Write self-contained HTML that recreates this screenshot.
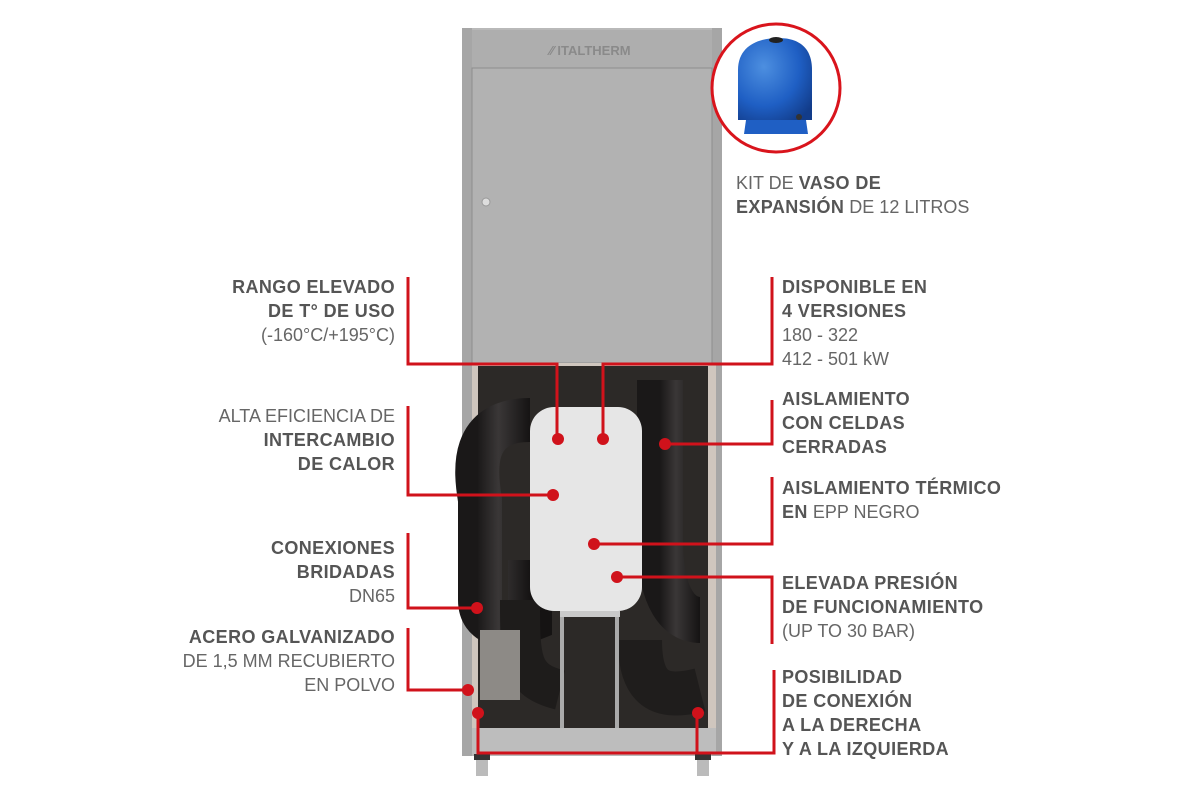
<!DOCTYPE html>
<html><head><meta charset="utf-8"><style>
body{margin:0;width:1200px;height:797px;background:#fff;position:relative;overflow:hidden;font-family:"Liberation Sans",Arial,sans-serif;color:#555;}
.t{position:absolute;font-size:18px;line-height:24px;white-space:nowrap;}
.l{text-align:right;right:805px;}
.r{left:782px;}
b{font-weight:bold;letter-spacing:0.4px;}
.lt{font-weight:normal;color:#666;}
</style></head><body>
<svg width="1200" height="797" style="position:absolute;left:0;top:0">
<defs>
<linearGradient id="pipe" x1="0" x2="1"><stop offset="0" stop-color="#1a1818"/><stop offset=".4" stop-color="#3a3737"/><stop offset="1" stop-color="#151313"/></linearGradient>
<radialGradient id="tank" cx=".35" cy=".35" r=".8"><stop offset="0" stop-color="#4d8fe0"/><stop offset=".6" stop-color="#1f5fc4"/><stop offset="1" stop-color="#123c8a"/></radialGradient>
</defs>
<rect x="462" y="28" width="260" height="728" fill="#b9b9b9"/>
<rect x="462" y="28" width="10" height="728" fill="#a6a6a6"/>
<rect x="712" y="28" width="10" height="728" fill="#a6a6a6"/>
<rect x="472" y="30" width="240" height="38" fill="#aeaeae"/>
<text x="590" y="55" font-size="13" font-weight="bold" fill="#8a8a8a" text-anchor="middle" font-family="Liberation Sans">⁄⁄ ITALTHERM</text>
<rect x="472" y="68" width="240" height="295" fill="#b2b2b2" stroke="#8d8d8d" stroke-width="1"/>
<circle cx="486" cy="202" r="4" fill="#ddd" stroke="#999"/>
<rect x="472" y="363" width="244" height="368" fill="#cfc6be"/>
<rect x="478" y="366" width="230" height="362" fill="#2c2927"/>
<path d="M530 420 C470 420 475 470 480 500 L480 600 C480 625 505 630 530 620 L530 560" fill="none" stroke="url(#pipe)" stroke-width="44"/>
<path d="M520 600 C520 660 520 680 560 690" fill="none" stroke="#1e1c1b" stroke-width="40"/>
<path d="M660 380 L660 540 C660 600 680 620 700 620" fill="none" stroke="url(#pipe)" stroke-width="46"/>
<path d="M640 640 C640 690 660 700 700 690" fill="none" stroke="#1f1d1c" stroke-width="44"/>
<rect x="480" y="630" width="40" height="70" fill="#8d8a86"/>
<rect x="530" y="407" width="112" height="204" rx="24" fill="#e6e6e6"/>
<path d="M562 611 L562 728 M617 611 L617 728" stroke="#aaa" stroke-width="4"/>
<rect x="560" y="611" width="60" height="6" fill="#c9c9c9"/>
<rect x="472" y="728" width="244" height="26" fill="#bdbdbd"/>
<rect x="476" y="754" width="12" height="22" fill="#bbb"/>
<rect x="697" y="754" width="12" height="22" fill="#bbb"/>
<rect x="474" y="754" width="16" height="6" fill="#333"/>
<rect x="695" y="754" width="16" height="6" fill="#333"/>
<circle cx="776" cy="88" r="64" fill="#fff" stroke="#d9141c" stroke-width="3"/>
<path d="M738 70 C738 45 760 38 778 38 C796 38 812 45 812 70 L812 120 L738 120 Z" fill="url(#tank)"/>
<ellipse cx="776" cy="40" rx="7" ry="3" fill="#222"/>
<path d="M746 120 L806 120 L808 134 L744 134 Z" fill="#1f5fc4"/>
<circle cx="799" cy="117" r="3" fill="#333"/>
<g fill="none" stroke="#d0121b" stroke-width="3">
<polyline points="408,277 408,364 557,364 557,439"/>
<polyline points="603,439 603,364 772,364 772,277"/>
<polyline points="408,406 408,495 553,495"/>
<polyline points="665,444 772,444 772,400"/>
<polyline points="594,544 772,544 772,477"/>
<polyline points="617,577 772,577 772,644"/>
<polyline points="408,533 408,608 477,608"/>
<polyline points="408,628 408,690 468,690"/>
<polyline points="478,713 478,753 697,753 697,713"/>
<polyline points="697,753 774,753 774,670"/>
</g>
<g fill="#d0121b">
<circle cx="558" cy="439" r="6"/><circle cx="603" cy="439" r="6"/>
<circle cx="553" cy="495" r="6"/><circle cx="665" cy="444" r="6"/>
<circle cx="594" cy="544" r="6"/><circle cx="617" cy="577" r="6"/>
<circle cx="477" cy="608" r="6"/><circle cx="468" cy="690" r="6"/>
<circle cx="478" cy="713" r="6"/><circle cx="698" cy="713" r="6"/>
</g>
</svg>
<div class="t" style="left:736px;top:171px;"><span class="lt">KIT DE </span><b>VASO DE</b><br><b>EXPANSIÓN</b><span class="lt"> DE 12 LITROS</span></div>
<div class="t l" style="top:275px;"><b>RANGO ELEVADO</b><br><b>DE T° DE USO</b><br><span class="lt">(-160°C/+195°C)</span></div>
<div class="t l" style="top:404px;"><span class="lt">ALTA EFICIENCIA DE</span><br><b>INTERCAMBIO</b><br><b>DE CALOR</b></div>
<div class="t l" style="top:536px;"><b>CONEXIONES</b><br><b>BRIDADAS</b><br><span class="lt">DN65</span></div>
<div class="t l" style="top:625px;"><b>ACERO GALVANIZADO</b><br><span class="lt">DE 1,5 MM RECUBIERTO</span><br><span class="lt">EN POLVO</span></div>
<div class="t r" style="top:275px;"><b>DISPONIBLE EN</b><br><b>4 VERSIONES</b><br><span class="lt">180 - 322</span><br><span class="lt">412 - 501 kW</span></div>
<div class="t r" style="top:387px;"><b>AISLAMIENTO</b><br><b>CON CELDAS</b><br><b>CERRADAS</b></div>
<div class="t r" style="top:476px;"><b>AISLAMIENTO TÉRMICO</b><br><b>EN</b><span class="lt"> EPP NEGRO</span></div>
<div class="t r" style="top:571px;"><b>ELEVADA PRESIÓN</b><br><b>DE FUNCIONAMIENTO</b><br><span class="lt">(UP TO 30 BAR)</span></div>
<div class="t r" style="top:665px;"><b>POSIBILIDAD</b><br><b>DE CONEXIÓN</b><br><b>A LA DERECHA</b><br><b>Y A LA IZQUIERDA</b></div>
</body></html>
